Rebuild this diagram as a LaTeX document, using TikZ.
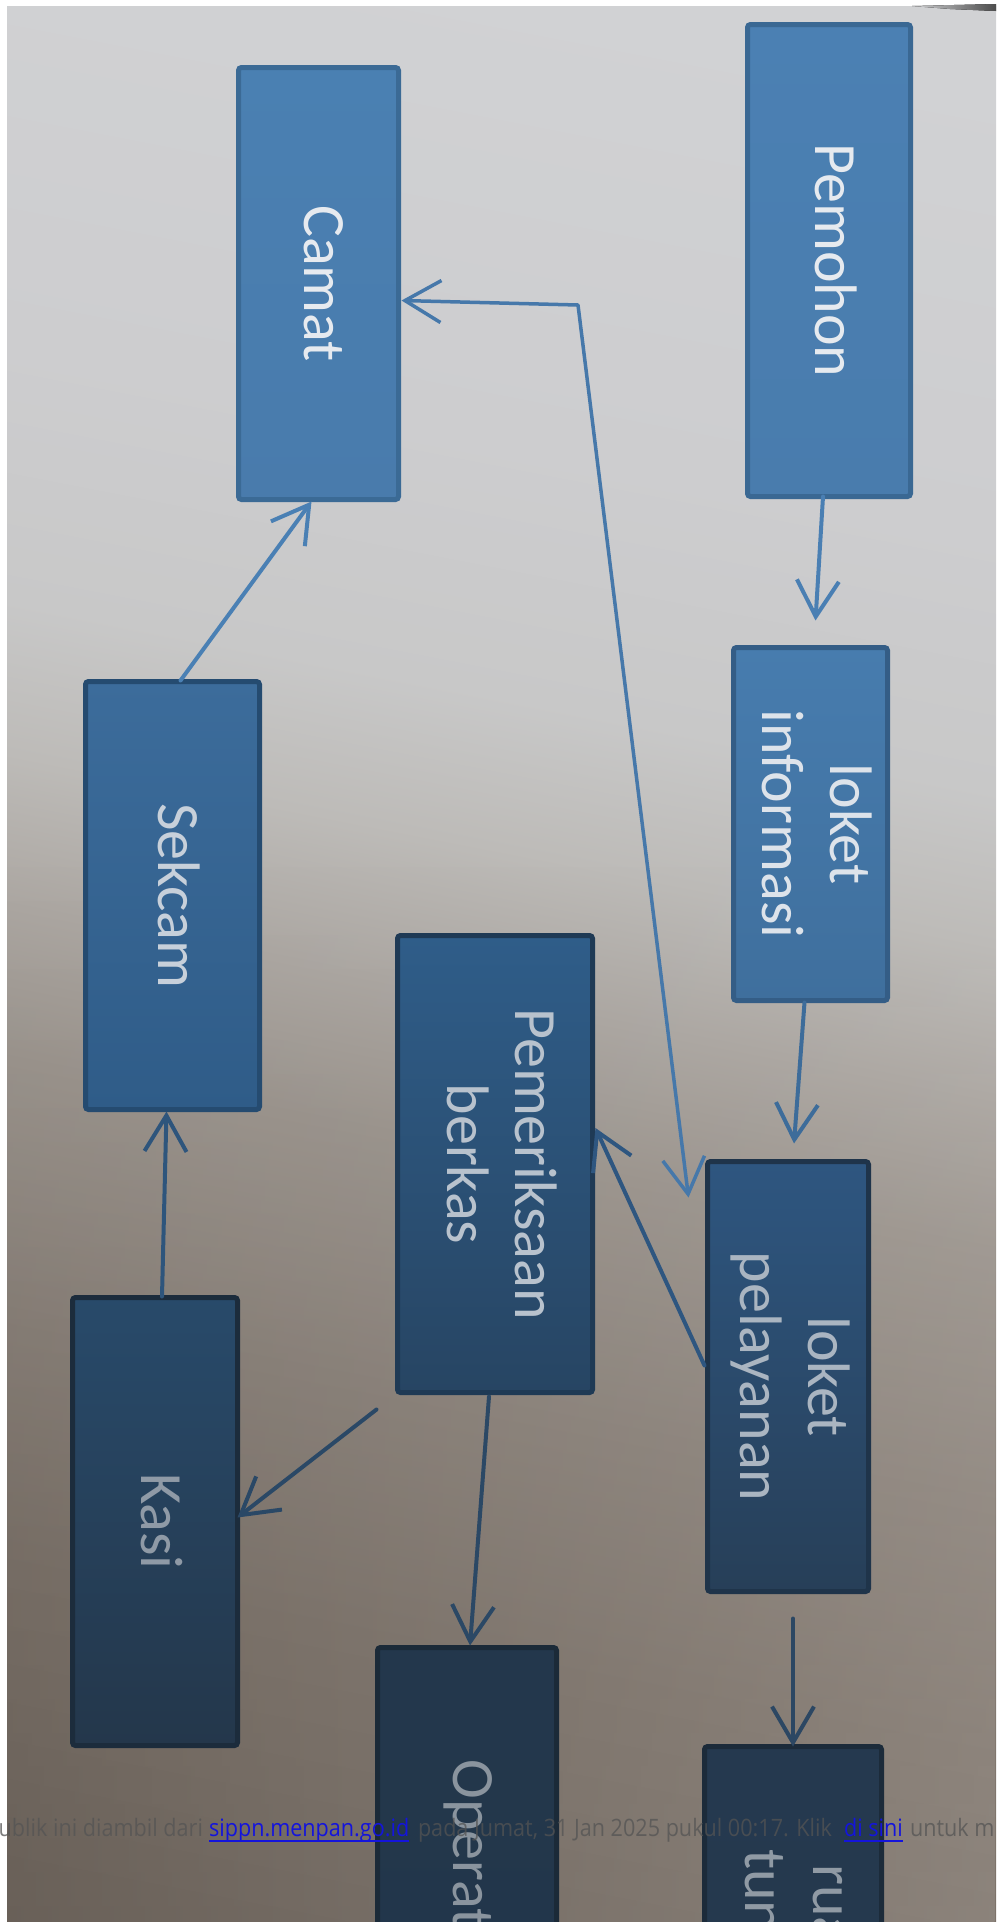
\documentclass[tikz,border=0pt]{standalone}
\usepackage{fontspec}
\usepackage{graphicx}
\setmainfont{Carlito}
\newfontfamily\wmfont[FakeStretch=0.9]{Open Sans}
\usetikzlibrary{arrows.meta,calc,fadings}
\definecolor{bga}{HTML}{D1D2D4}
\definecolor{bgb}{HTML}{CDCDCF}
\definecolor{bgc}{HTML}{C8C8C8}
\definecolor{bgd}{HTML}{BDBBB8}
\definecolor{bge}{HTML}{ACA7A2}
\definecolor{bgf}{HTML}{9C958E}
\definecolor{bgg}{HTML}{8C837B}
\definecolor{bgh}{HTML}{80766D}
\definecolor{bgi}{HTML}{786E65}
\definecolor{wmgray}{HTML}{545454}
\definecolor{linkblue}{HTML}{1414DC}
% box colours: top, bottom, border, text
\definecolor{pmT}{HTML}{4B80B3}\definecolor{pmB}{HTML}{497CAD}\definecolor{pmD}{HTML}{3A6893}\definecolor{pmX}{HTML}{E6EAEF}
\definecolor{caT}{HTML}{4A80B2}\definecolor{caB}{HTML}{497BAC}\definecolor{caD}{HTML}{3B6A95}\definecolor{caX}{HTML}{E6EAEF}
\definecolor{inT}{HTML}{477CAE}\definecolor{inB}{HTML}{3F6F9D}\definecolor{inD}{HTML}{345D86}\definecolor{inX}{HTML}{DDE3EA}
\definecolor{seT}{HTML}{3C6C9B}\definecolor{seB}{HTML}{2F5C88}\definecolor{seD}{HTML}{254B70}\definecolor{seX}{HTML}{C7D0DA}
\definecolor{peT}{HTML}{2F5D89}\definecolor{peB}{HTML}{274563}\definecolor{peD}{HTML}{1F3A55}\definecolor{peX}{HTML}{B8C2CD}
\definecolor{plT}{HTML}{2E5680}\definecolor{plB}{HTML}{273F58}\definecolor{plD}{HTML}{1F344A}\definecolor{plX}{HTML}{AAB5C1}
\definecolor{kaT}{HTML}{284A6A}\definecolor{kaB}{HTML}{24374B}\definecolor{kaD}{HTML}{1C2C3C}\definecolor{kaX}{HTML}{8F9AA6}
\definecolor{opT}{HTML}{23374C}\definecolor{opB}{HTML}{22364A}\definecolor{opD}{HTML}{1B2A38}\definecolor{opX}{HTML}{8A949E}
\definecolor{ruT}{HTML}{25394F}\definecolor{ruB}{HTML}{24384D}\definecolor{ruD}{HTML}{1C2B3A}\definecolor{ruX}{HTML}{909AA4}
% connector colours
\definecolor{cA}{HTML}{4A7FB3}
\definecolor{cB}{HTML}{3D6C9A}
\definecolor{cC}{HTML}{2C4763}
\definecolor{cD}{HTML}{2E5680}
\definecolor{cE}{HTML}{2A4866}
\definecolor{cF}{HTML}{2B4865}
\definecolor{cG}{HTML}{2E557C}
\definecolor{cH}{HTML}{4A80B4}
\definecolor{cI}{HTML}{4678AA}
\pgfdeclareverticalshading{bgshade}{100bp}{color(0bp)=(bgi); color(33.47bp)=(bgi); color(38.56bp)=(bgh); color(42.80bp)=(bgg); color(47.03bp)=(bgf); color(49.58bp)=(bge); color(52.12bp)=(bgd); color(54.66bp)=(bgc); color(58.90bp)=(bgb); color(66.53bp)=(bga); color(100bp)=(bga)}
\newcommand\vtxt[1]{\rotatebox{-90}{\begin{tabular}{@{}c@{}}#1\end{tabular}}}
\tikzset{
  box/.style={draw, line width=5pt, rounded corners=3pt, inner sep=0pt, outer sep=0pt, align=center, font=\fontsize{60}{68}\selectfont},
  boxc/.style={top color=#1T, bottom color=#1B, draw=#1D, text=#1X},
  arr/.style={line width=4pt, line cap=round, line join=round, -{Straight Barb[length=36pt,width=42pt]}},
  arrboth/.style={line width=3.5pt, line cap=round, line join=round, {Straight Barb[length=36pt,width=42pt]}-{Straight Barb[length=36pt,width=42pt]}},
  wm/.style={inner sep=0pt, outer sep=0pt, font=\wmfont\fontsize{24}{28}\selectfont},
}
\begin{document}
\begin{tikzpicture}[x=1pt, y=-1pt]
\useasboundingbox (0,0) rectangle (996,1922);
\begin{scope}
\clip (0,0) rectangle (996,1922);
% photo background
\fill[white] (0,0) rectangle (996,1922);
\begin{scope}
\clip (7,6) rectangle (996,1922);
\shade[shading=bgshade, transform canvas={rotate around={-11:(498,961)}}] (-600,-500) rectangle (1600,2450);
\shade[left color=black, right color=white, opacity=0.12, path fading=north] (7,850) rectangle (996,1922);
\end{scope}
\fill[left color=bga, right color=black!70] (912,6) -- (996,4) -- (996,11) -- (950,9) -- cycle;

% boxes
\node[box, boxc=pm, minimum width=163, minimum height=472] (pemohon) at (829,260.5) {\vtxt{Pemohon}};
\node[box, boxc=ca, minimum width=160, minimum height=432] (camat) at (318.5,283.5) {\vtxt{Camat}};
\node[box, boxc=in, minimum width=154, minimum height=353] (infor) at (810.5,824) {\vtxt{loket\\informasi}};
\node[box, boxc=se, minimum width=174, minimum height=428] (sekcam) at (172.5,895.5) {\vtxt{Sekcam}};
\node[box, boxc=pe, minimum width=195, minimum height=457] (pemer) at (495,1164) {\vtxt{Pemeriksaan\\berkas}};
\node[box, boxc=pl, minimum width=161, minimum height=430] (pel) at (788,1376.5) {\vtxt{loket\\pelayanan}};
\node[box, boxc=ka, minimum width=165, minimum height=448] (kasi) at (155,1521.5) {\vtxt{Kasi}};
\node[box, boxc=op, minimum width=179, minimum height=445] (operat) at (467,1870) {\vtxt{Operator}};
\node[box, boxc=ru, minimum width=177, minimum height=377] (ruang) at (793,1935) {\vtxt{ruang\\tunggu}};

% connectors
\coordinate (k) at (578,305);
\draw[arr, draw=cA] ($(pemohon.south)+(-6,0)$) -- ($(infor.north)+(5,-27)$);
\draw[arr, draw=cB] ($(infor.south)+(-6,2)$) -- ($(pel.north)+(6,-18)$);
\draw[arr, draw=cC] ($(pel.south)+(5,27)$) -- (ruang.north);
\draw[arr, draw=cD] ($(pel.west)+(-3,-11)$) -- ($(pemer.east)+(3,-36)$);
\draw[arr, draw=cE] ($(pemer.south west)+(-21,17)$) -- ($(kasi.east)+(0,-4)$);
\draw[arr, draw=cF] ($(pemer.south)+(-6,4)$) -- ($(operat.north)+(3,-2)$);
\draw[arr, draw=cG] ($(kasi.north)+(7,-1)$) -- ($(sekcam.south)+(-6,2)$);
\draw[arr, draw=cH] ($(sekcam.north)+(8,-1)$) -- ($(camat.south)+(-7,2)$);
\draw[arrboth, draw=cI] ($(camat.east)+(3,17)$) -- (k) -- ($(pel.north west)+(-19,36)$);

% watermark line
\node[wm, text=wmgray, opacity=0.75, anchor=base east] (wm1) at (203,1836) {ublik ini diambil dari};
\node[wm, text=linkblue, anchor=base west] (wm2) at (209,1836) {sippn.menpan.go.id};
\node[wm, text=wmgray, opacity=0.75, anchor=base west] (wm3) at (418,1836) {pada Jumat, 31 Jan 2025 pukul 00:17. Klik};
\node[wm, text=linkblue, anchor=base west] (wm4) at (844,1836) {di sini};
\node[wm, text=wmgray, opacity=0.75, anchor=base west] (wm5) at (910,1836) {untuk m};
\draw[linkblue, line width=1.5pt] ($(wm2.base west)+(0,5)$) -- ($(wm2.base east)+(0,5)$);
\draw[linkblue, line width=1.5pt] ($(wm4.base west)+(0,5)$) -- ($(wm4.base east)+(0,5)$);
\end{scope}
\end{tikzpicture}
\end{document}
